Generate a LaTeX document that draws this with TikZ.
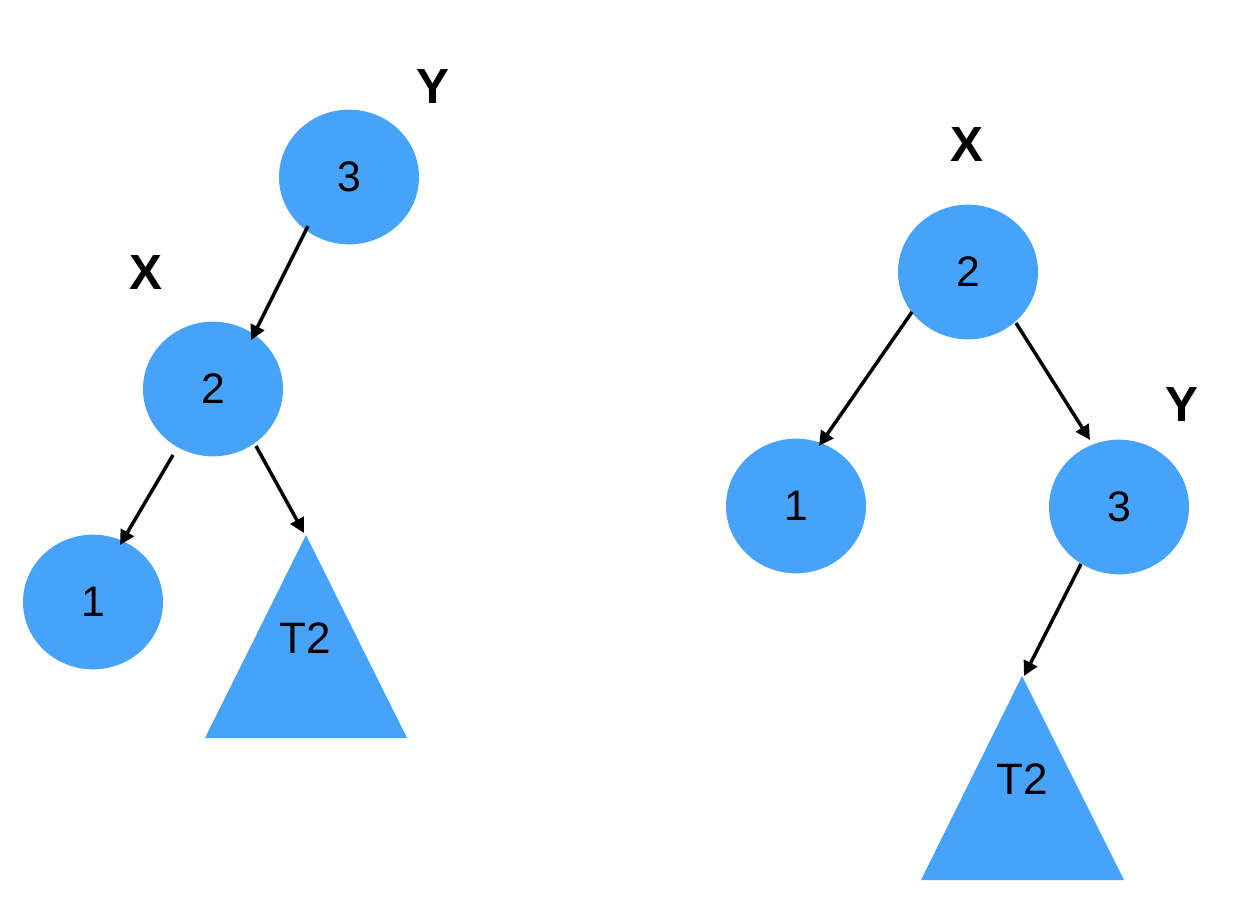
\documentclass[tikz,border=0pt]{standalone}
\usepackage{fontspec}
\setmainfont{Liberation Sans}
\usetikzlibrary{arrows.meta,shapes.geometric}
\definecolor{nodeblue}{HTML}{47A3F9}
\tikzset{
  treenode/.style={ellipse, fill=nodeblue, minimum width=105pt, minimum height=101pt, inner sep=0pt, font=\fontsize{32}{32}\selectfont},
  lbl/.style={font=\fontsize{37}{37}\selectfont\bfseries, inner sep=0pt},
  tlbl/.style={font=\fontsize{33}{33}\selectfont, inner sep=0pt},
  tri/.style={fill=nodeblue},
  edge/.style={line width=2.6pt, -{Triangle[length=11pt,width=11pt]}, shorten >=0pt}
}
\begin{document}
\begin{tikzpicture}[x=0.75pt,y=-0.75pt]
\useasboundingbox (0,0) rectangle (1242,914);
% left tree
\node[treenode] (l3) at (349,177) {3};
\node[lbl] (lY) at (433,87) {Y};
\node[treenode] (l2) at (213,389) {2};
\node[lbl] (lX) at (146,273) {X};
\node[treenode] (l1) at (93,602) {1};
\fill[tri] (306,535) coordinate (lTa) -- (407,738) -- (205,738) -- cycle;
\node[tlbl] (lT) at (305,638) {T2};
\coordinate (a1s) at (308,226); \coordinate (a1e) at (251,340);
\coordinate (a2s) at (173,455); \coordinate (a2e) at (120,545);
\coordinate (a3s) at (256,446); \coordinate (a3e) at (304,533);
\draw[edge] (a1s) -- (a1e);
\draw[edge] (a2s) -- (a2e);
\draw[edge] (a3s) -- (a3e);
% right tree
\node[lbl] (rX) at (967,145) {X};
\node[treenode] (r2) at (968,272) {2};
\node[treenode] (r1) at (796,506) {1};
\node[treenode] (r3) at (1119,507) {3};
\node[lbl] (rY) at (1182,405) {Y};
\fill[tri] (1022,676) -- (1124,880) -- (921,880) -- cycle;
\node[tlbl] (rT) at (1022,779) {T2};
\coordinate (b1s) at (912,312); \coordinate (b1e) at (819,446);
\coordinate (b2s) at (1016,323); \coordinate (b2e) at (1090,440);
\coordinate (b3s) at (1081,564); \coordinate (b3e) at (1024,676);
\draw[edge] (b1s) -- (b1e);
\draw[edge] (b2s) -- (b2e);
\draw[edge] (b3s) -- (b3e);
\end{tikzpicture}
\end{document}
